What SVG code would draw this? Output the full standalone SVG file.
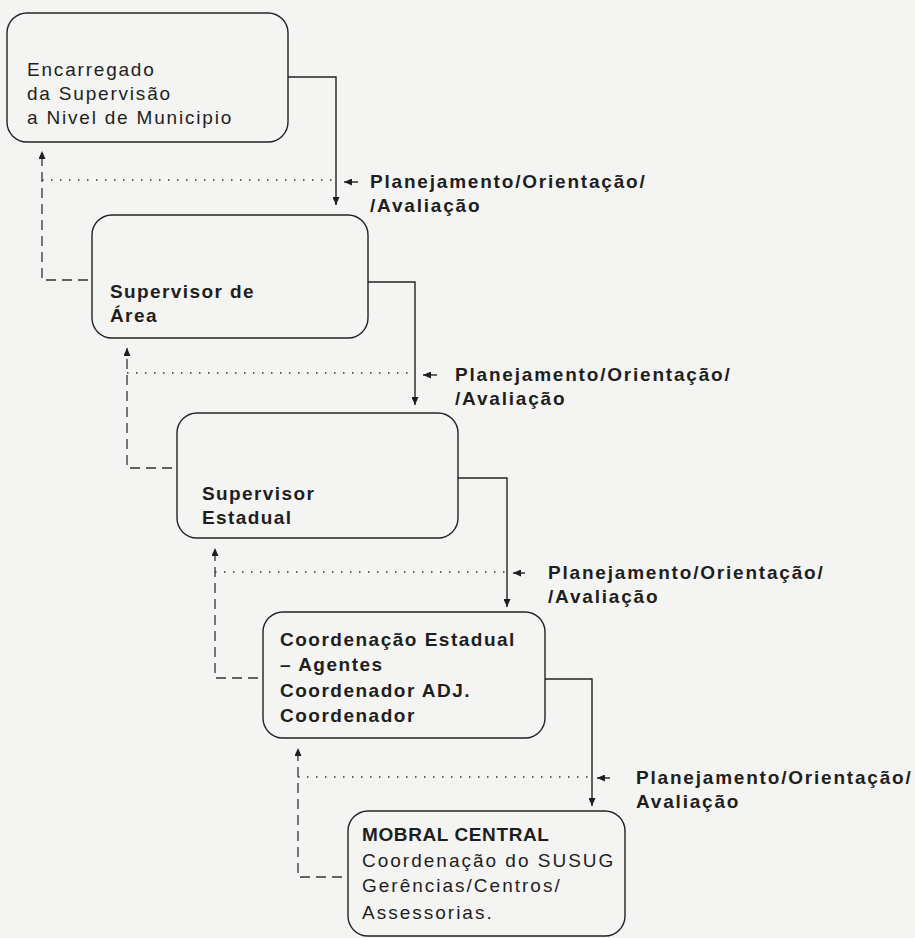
<svg xmlns="http://www.w3.org/2000/svg" width="915" height="938" viewBox="0 0 915 938">
<defs>
<marker id="ah" markerWidth="8" markerHeight="7" refX="8" refY="3.5" orient="auto" markerUnits="userSpaceOnUse"><path d="M0,0 L8,3.5 L0,7 z" fill="#1e1e1e"/></marker>
<style>
.box{fill:none;stroke:#222;stroke-width:1.4}
.t{font-family:"Liberation Sans",Arial,Helvetica,sans-serif;font-size:19px;fill:#1e1e1e;letter-spacing:1.8px}
.b{font-weight:bold;letter-spacing:1.4px}
.solid{fill:none;stroke:#222;stroke-width:1.4}
.dot{fill:none;stroke:#333;stroke-width:1.7;stroke-dasharray:1.5 7.5}
.dash{fill:none;stroke:#333;stroke-width:1.3;stroke-dasharray:10 6}
.ptr{fill:none;stroke:#222;stroke-width:1.4}
.lbl{font-family:"Liberation Sans",Arial,Helvetica,sans-serif;font-size:19px;font-weight:bold;fill:#1e1e1e;letter-spacing:1.8px}
</style>
</defs>
<rect x="0" y="0" width="915" height="938" fill="#f4f4f2"/>

<g id="connectors">
  <path class="solid" d="M288,77 H336 V205" marker-end="url(#ah)"/>
  <path class="solid" d="M368,282 H415 V405" marker-end="url(#ah)"/>
  <path class="solid" d="M458,478 H507 V607" marker-end="url(#ah)"/>
  <path class="solid" d="M545,679 H592 V806" marker-end="url(#ah)"/>
  <path class="dash" d="M88,280 H42 V151" marker-end="url(#ah)"/>
  <path class="dash" d="M172,468 H127 V348" marker-end="url(#ah)"/>
  <path class="dash" d="M258,678 H215 V548" marker-end="url(#ah)"/>
  <path class="dash" d="M342,877 H298 V748" marker-end="url(#ah)"/>
  <path class="dot" d="M42,180 H336"/>
  <path class="dot" d="M127,373 H415"/>
  <path class="dot" d="M215,572 H507"/>
  <path class="dot" d="M298,777 H592"/>
  <path class="ptr" d="M358,182 H344" marker-end="url(#ah)"/>
  <path class="ptr" d="M437,375 H423" marker-end="url(#ah)"/>
  <path class="ptr" d="M525,573 H513" marker-end="url(#ah)"/>
  <path class="ptr" d="M610,778 H597" marker-end="url(#ah)"/>
  <text class="lbl" x="370" y="188">Planejamento/Orientação/</text>
  <text class="lbl" x="370" y="212">/Avaliação</text>
  <text class="lbl" x="455" y="381">Planejamento/Orientação/</text>
  <text class="lbl" x="455" y="405">/Avaliação</text>
  <text class="lbl" x="548" y="579">Planejamento/Orientação/</text>
  <text class="lbl" x="548" y="603">/Avaliação</text>
  <text class="lbl" x="636" y="784">Planejamento/Orientação/</text>
  <text class="lbl" x="636" y="808">Avaliação</text>
</g>

<g id="encarregado">
  <rect class="box" x="7" y="13" width="281" height="129" rx="20"/>
  <text class="t" x="27" y="76">Encarregado</text>
  <text class="t" x="27" y="100">da Supervisão</text>
  <text class="t" x="27" y="124">a Nivel de Municipio</text>
</g>

<g id="supervisor-area">
  <rect class="box" x="92" y="215" width="276" height="123" rx="20"/>
  <text class="t b" x="110" y="298">Supervisor de</text>
  <text class="t b" x="110" y="322">Área</text>
</g>

<g id="supervisor-estadual">
  <rect class="box" x="177" y="413" width="281" height="125" rx="20"/>
  <text class="t b" x="202" y="500">Supervisor</text>
  <text class="t b" x="202" y="524">Estadual</text>
</g>

<g id="coordenacao-estadual">
  <rect class="box" x="263" y="612" width="282" height="126" rx="20"/>
  <text class="t b" x="280" y="646" style="letter-spacing:1.5px">Coordenação Estadual</text>
  <text class="t b" x="280" y="671" style="letter-spacing:1.5px">– Agentes</text>
  <text class="t b" x="280" y="697" style="letter-spacing:1.5px">Coordenador ADJ.</text>
  <text class="t b" x="280" y="722" style="letter-spacing:1.5px">Coordenador</text>
</g>

<g id="mobral-central">
  <rect class="box" x="348" y="811" width="277" height="125" rx="20"/>
  <text class="t b" x="362" y="841" style="letter-spacing:0.6px">MOBRAL CENTRAL</text>
  <text class="t" x="362" y="867" style="letter-spacing:2px">Coordenação do SUSUG</text>
  <text class="t" x="362" y="892" style="letter-spacing:2px">Gerências/Centros/</text>
  <text class="t" x="362" y="919" style="letter-spacing:2px">Assessorias.</text>
</g>
</svg>
